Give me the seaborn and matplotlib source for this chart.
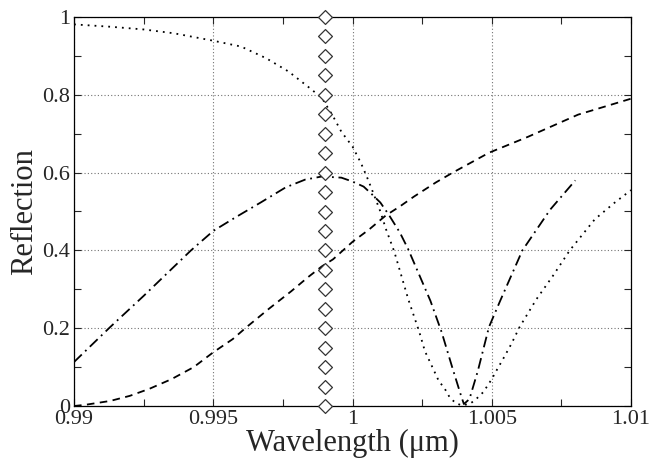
import matplotlib
matplotlib.use("Agg")
import matplotlib.pyplot as plt
import pandas as pd
import seaborn as sns
from matplotlib.ticker import MultipleLocator, FixedLocator

# dotted curve
wl_dot = [0.9900, 0.9913, 0.9925, 0.9936, 0.9950, 0.9960, 0.9969, 0.9977, 0.9984,
          0.9989, 0.9993, 0.9996, 1.0000, 1.0003, 1.0005, 1.0007, 1.0010, 1.0012,
          1.0015, 1.0020, 1.0024, 1.0026, 1.0029, 1.0031, 1.0033, 1.0035, 1.0037,
          1.0039, 1.0042, 1.0044, 1.0047, 1.0050, 1.0052, 1.0054, 1.0057, 1.0060,
          1.0066, 1.0072, 1.0078, 1.0087, 1.0094, 1.0100]
r_dot = [0.981, 0.975, 0.968, 0.958, 0.939, 0.924, 0.894, 0.860, 0.821,
         0.792, 0.745, 0.705, 0.667, 0.625, 0.592, 0.556, 0.500, 0.455,
         0.397, 0.275, 0.190, 0.141, 0.095, 0.064, 0.046, 0.021, 0.008,
         0.002, 0.005, 0.015, 0.036, 0.069, 0.095, 0.120, 0.159, 0.203,
         0.274, 0.335, 0.400, 0.480, 0.522, 0.555]

# dashed curve
wl_dash = [0.9900, 0.9904, 0.9913, 0.9920, 0.9927, 0.9935, 0.9943, 0.9950, 0.9957,
           0.9962, 0.9970, 0.9978, 0.9984, 0.9989, 0.9993, 1.0000, 1.0006, 1.0012,
           1.0017, 1.0022, 1.0030, 1.0036, 1.0049, 1.0063, 1.0081, 1.0100]
r_dash = [0.000, 0.003, 0.013, 0.026, 0.044, 0.069, 0.100, 0.138, 0.172,
          0.203, 0.250, 0.295, 0.331, 0.359, 0.377, 0.422, 0.454, 0.490,
          0.513, 0.538, 0.575, 0.600, 0.651, 0.692, 0.749, 0.790]

# dash-dot curve
wl_dd = [0.9900, 0.9913, 0.9925, 0.9934, 0.9942, 0.9950, 0.9958, 0.9967, 0.9976,
         0.9983, 0.9989, 0.9996, 1.0000, 1.0004, 1.0007, 1.0010, 1.0013, 1.0017,
         1.0020, 1.0028, 1.0032, 1.0036, 1.0039, 1.0040, 1.0042, 1.0045,
         1.0049, 1.0053, 1.0061, 1.0071, 1.0080]
r_dd = [0.113, 0.203, 0.283, 0.345, 0.400, 0.450, 0.485, 0.523, 0.562,
        0.582, 0.590, 0.587, 0.577, 0.564, 0.544, 0.523, 0.492, 0.446,
        0.403, 0.270, 0.190, 0.095, 0.026, 0.005, 0.018, 0.090,
        0.203, 0.270, 0.400, 0.505, 0.580]

# diamond markers
wl_marker = 0.999
r_marker = [i * 0.05 for i in range(21)]

xtick_vals = [0.99, 0.995, 1.0, 1.005, 1.01]
xtick_labels = ["0.99", "0.995", "1", "1.005", "1.01"]
ytick_vals = [0, 0.2, 0.4, 0.6, 0.8, 1.0]
ytick_labels = ["0", "0.2", "0.4", "0.6", "0.8", "1"]

sns.set_style("ticks")
plt.rcParams['font.family'] = ['Liberation Serif', 'DejaVu Serif']

fig = plt.figure(figsize=(6.62, 4.62), dpi=100)
ax = fig.add_axes([74 / 662, 1 - 406 / 462, 557 / 662, 389 / 462])

df_dot = pd.DataFrame({"wl": wl_dot, "R": r_dot})
df_dash = pd.DataFrame({"wl": wl_dash, "R": r_dash})
df_dd = pd.DataFrame({"wl": wl_dd, "R": r_dd})
df_mk = pd.DataFrame({"wl": [wl_marker] * len(r_marker), "R": r_marker})

sns.lineplot(data=df_dot, x="wl", y="R", ax=ax, color="black", lw=1.3,
             linestyle=(0, (1, 2.8)), errorbar=None, sort=False)
sns.lineplot(data=df_dash, x="wl", y="R", ax=ax, color="black", lw=1.3,
             linestyle=(0, (4.2, 3)), errorbar=None, sort=False)
sns.lineplot(data=df_dd, x="wl", y="R", ax=ax, color="black", lw=1.3,
             linestyle=(0, (6, 2.6, 1, 2.6)), errorbar=None, sort=False)
sns.scatterplot(data=df_mk, x="wl", y="R", ax=ax, marker="D", s=50,
                facecolor="white", edgecolor="0.2", linewidth=0.9, zorder=5,
                clip_on=False)

ax.set_xlim(0.99, 1.01)
ax.set_ylim(0, 1)
ax.xaxis.set_major_locator(FixedLocator(xtick_vals))
ax.set_xticklabels(xtick_labels)
ax.yaxis.set_major_locator(FixedLocator(ytick_vals))
ax.set_yticklabels(ytick_labels)
ax.xaxis.set_minor_locator(MultipleLocator(0.0025))
ax.yaxis.set_minor_locator(MultipleLocator(0.1))

ax.grid(True, which="major", linestyle=(0, (1, 2)), color="0.45", lw=0.8)
ax.tick_params(which="both", direction="in", top=True, right=True,
               length=5, width=0.8, labelsize=16, pad=3)
for sp in ax.spines.values():
    sp.set_linewidth(0.9)
    sp.set_color("black")

ax.set_xlabel("Wavelength (\u03bcm)", fontsize=22, labelpad=0)
ax.set_ylabel("Reflection", fontsize=22, labelpad=2)

fig.savefig("out.png", dpi=100)
